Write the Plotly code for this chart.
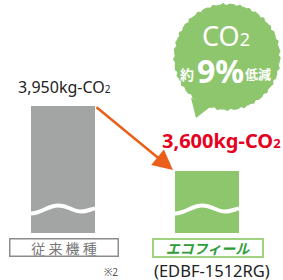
import math
import plotly.graph_objects as go

# ---- data ----
categories = ["従来機種", "エコフィール"]
values = [3950, 3600]
value_labels = ["3,950kg-CO<span style='font-size:10px'>2</span>",
                "3,600kg-CO<span style='font-size:13px'>2</span>"]
model_note = "(EDBF-1512RG)"
footnote = "※2"
bubble_co2 = "CO<span style='font-size:18px'>2</span>"
bubble_pre = "約"
bubble_pct = "9%"
bubble_post = "低減"

W, H = 283, 280
GRAY = "#a3a4a4"
GREEN = "#8ec66e"
RED = "#e60021"
ORANGE = "#ea5f19"

# axis geometry (broken axis, shown from y_min)
y_min, y_max = 3266, 4521
x_lo, x_hi = -0.4375, 1.5278
y_dom0 = 47 / H


def px(x):
    return x / W


def py(y):
    return 1 - y / H


def cat_center_px(i):
    return (i - x_lo) / (x_hi - x_lo) * W


fig = go.Figure()
fig.add_trace(go.Bar(
    x=categories, y=values, width=0.4444,
    marker=dict(color=[GRAY, GREEN], line=dict(width=0)),
    hoverinfo="skip",
))

shapes = []
# wave break marks on each bar
bar_w_px = 0.4444 * W / (x_hi - x_lo)
for i in range(len(categories)):
    x0 = cat_center_px(i) - bar_w_px / 2
    pts = [
        ("M", [(0, 213.5)]),
        ("C", [(10, 213.5), (17, 205.5), (27, 205.5)]),
        ("C", [(37, 205.5), (42, 211.5), (50, 211.5)]),
        ("C", [(56, 211.5), (60, 209), (bar_w_px, 208.5)]),
    ]
    path = ""
    for cmd, ps in pts:
        path += cmd + " " + " ".join(f"{px(x0 + a):.5f},{py(b):.5f}" for a, b in ps) + " "
    shapes.append(dict(type="path", path=path.strip(), xref="paper", yref="paper",
                       line=dict(color="white", width=4), fillcolor="rgba(0,0,0,0)"))

# speech bubble
cx, cy, r = 227, 57, 53
n = 180
bp = []
for k in range(n):
    t = 2 * math.pi * k / n
    rr = r + 0.7 * math.sin(37 * t) + 0.5 * math.sin(61 * t + 1.0)
    bp.append((cx + rr * math.cos(t), cy + rr * math.sin(t)))
path = "M " + " L ".join(f"{px(a):.5f},{py(b):.5f}" for a, b in bp) + " Z"
shapes.append(dict(type="path", path=path, xref="paper", yref="paper",
                   fillcolor=GREEN, line=dict(width=0), layer="below"))
tail = [(191, 98), (196, 118), (214, 104)]
path = "M " + " L ".join(f"{px(a):.5f},{py(b):.5f}" for a, b in tail) + " Z"
shapes.append(dict(type="path", path=path, xref="paper", yref="paper",
                   fillcolor=GREEN, line=dict(width=0), layer="below"))

C = dict(xanchor="center", yanchor="middle", showarrow=False)
ann = []
# value labels
ann.append(dict(x=categories[0], y=values[0], xref="x", yref="y", text=value_labels[0],
                showarrow=False, xanchor="center", yanchor="bottom", yshift=6, xshift=1,
                font=dict(family="Noto Sans", size=16, color="#222222")))
ann.append(dict(x=categories[1], y=values[1], xref="x", yref="y", text=value_labels[1],
                showarrow=False, xanchor="center", yanchor="bottom", yshift=15, xshift=14,
                font=dict(family="Noto Sans", size=20, color=RED, weight="bold")))
# arrow
ann.append(dict(x=px(173), y=py(170), xref="paper", yref="paper", text="",
                showarrow=True, ax=95 - 173, ay=106 - 170, axref="pixel", ayref="pixel",
                arrowhead=2, arrowsize=1.6, arrowwidth=2.5, arrowcolor=ORANGE, standoff=0))
# category boxes
ann.append(dict(x=categories[0], y=py(247.5), xref="x", yref="paper",
                text="従 来 機 種", xshift=0.5, **C,
                width=107, height=16, borderwidth=1.5, bordercolor="#8c8c8c", borderpad=0,
                font=dict(family="Noto Sans CJK JP", size=14, color="#777777")))
ann.append(dict(x=categories[1], y=py(247.5), xref="x", yref="paper",
                text="<i><b>エコフィール</b></i>", xshift=1, **C,
                width=108, height=16, borderwidth=2, bordercolor="#9fd27f", borderpad=0,
                font=dict(family="Noto Sans CJK JP", size=14, color="#2f9e3a")))
ann.append(dict(x=px(111), y=py(272), xref="paper", yref="paper", text=footnote, **C,
                font=dict(family="Noto Sans", size=10, color="#555555")))
ann.append(dict(x=categories[1], y=py(270), xref="x", yref="paper", text=model_note,
                xshift=5, **C,
                font=dict(family="Noto Sans", size=16.5, color="#222222")))
# bubble text
ann.append(dict(x=px(226), y=py(35), xref="paper", yref="paper", text=bubble_co2, **C,
                font=dict(family="Noto Sans", size=27, color="white")))
ann.append(dict(x=px(187), y=py(74), xref="paper", yref="paper", text=bubble_pre, **C,
                font=dict(family="Noto Sans CJK JP", size=14, color="white", weight="bold")))
ann.append(dict(x=px(220), y=py(70), xref="paper", yref="paper", text=bubble_pct, **C,
                font=dict(family="Noto Sans", size=32, color="white", weight="bold")))
ann.append(dict(x=px(258), y=py(74), xref="paper", yref="paper", text=bubble_post, **C,
                font=dict(family="Noto Sans CJK JP", size=13, color="white", weight="bold")))

fig.update_layout(
    width=W, height=H, margin=dict(l=0, r=0, t=0, b=0),
    paper_bgcolor="white", plot_bgcolor="rgba(0,0,0,0)",
    showlegend=False, shapes=shapes, annotations=ann,
    xaxis=dict(range=[x_lo, x_hi], domain=[0, 1], visible=False, type="category"),
    yaxis=dict(range=[y_min, y_max], domain=[y_dom0, 1], visible=False),
    bargap=0,
)
fig.write_html("out.html", config={"displayModeBar": False},
               post_script="document.body.style.margin='0px';document.body.style.overflow='hidden';")
